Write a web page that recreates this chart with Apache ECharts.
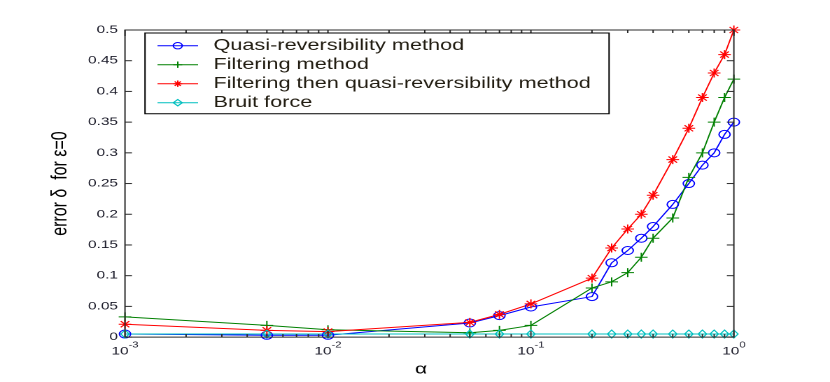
<!DOCTYPE html>
<html><head><meta charset="utf-8">
<script src="https://cdn.jsdelivr.net/npm/echarts@6/dist/echarts.min.js"></script>
<style>
html,body{margin:0;padding:0;background:#fff;overflow:hidden;}
#wrap{width:830px;height:382px;overflow:hidden;}
#chart{width:593px;height:382px;transform:scaleX(1.39966);transform-origin:0 0;}
</style></head><body><div id="wrap"><div id="chart"></div></div>
<script>
// ---- data ----
const alphas = [0.001, 0.005, 0.01, 0.05, 0.07, 0.1, 0.2, 0.25, 0.3, 0.35, 0.4, 0.5, 0.6, 0.7, 0.8, 0.9, 1.0];
const quasiReversibility = [0.005, 0.003, 0.003, 0.023, 0.035, 0.049, 0.066, 0.121, 0.141, 0.161, 0.18, 0.216, 0.25, 0.28, 0.30, 0.33, 0.35];
const filtering = [0.033, 0.019, 0.012, 0.007, 0.011, 0.019, 0.08, 0.09, 0.105, 0.13, 0.161, 0.194, 0.26, 0.30, 0.35, 0.39, 0.42];
const filteringThenQR = [0.021, 0.011, 0.009, 0.024, 0.037, 0.054, 0.096, 0.145, 0.176, 0.2, 0.231, 0.289, 0.34, 0.39, 0.43, 0.46, 0.5];
const bruitForce = [0.005, 0.005, 0.005, 0.005, 0.005, 0.005, 0.005, 0.005, 0.005, 0.005, 0.005, 0.005, 0.005, 0.005, 0.005, 0.005, 0.005];
const seriesNames = ['Quasi-reversibility method', 'Filtering method', 'Filtering then quasi-reversibility method', 'Bruit force'];
const xMin = 0.001, xMax = 1;
const yMin = 0, yMax = 0.5, yStep = 0.05;
const xMajorTicks = [0.001, 0.01, 0.1, 1];
const yMajorTicks = [0, 0.05, 0.1, 0.15, 0.2, 0.25, 0.3, 0.35, 0.4, 0.45, 0.5];
const minorTickValues = [0.002,0.003,0.004,0.005,0.006,0.007,0.008,0.009,
  0.02,0.03,0.04,0.05,0.06,0.07,0.08,0.09,
  0.2,0.3,0.4,0.5,0.6,0.7,0.8,0.9];
const xName = 'α';
const yName = 'error δ  for ε=0';

// ---- chart ----
const chart = echarts.init(document.getElementById('chart'), null, {devicePixelRatio: 2});
const font = "'Liberation Sans', Arial, sans-serif";
const axisColor = '#2a2a2a';
const labelColor = '#1c1c2a';

const plusPath = 'path://M5,0L5,10M0,5L10,5';
const starPath = 'path://M5,0L5,10M0,5L10,5M1.6,1.6L8.4,8.4M8.4,1.6L1.6,8.4';

function pairs(vals) { return alphas.map((a, i) => [a, vals[i]]); }

function lineSeries(name, vals, color, symbol, size) {
  return {
    name: name, type: 'line', data: pairs(vals),
    symbol: symbol, symbolSize: size, showSymbol: true,
    lineStyle: {color: color, width: 1},
    itemStyle: {color: 'rgba(0,0,0,0)', borderColor: color, borderWidth: 1},
    emphasis: {disabled: true}, animation: false, clip: false, z: 3
  };
}

function xAxisBase() {
  return {
    type: 'log', logBase: 10, min: xMin, max: xMax,
    axisLine: {show: false, onZero: false},
    axisTick: {show: false},
    splitLine: {show: false}, minorTick: {show: false}
  };
}
function yAxisBase() {
  return {
    type: 'value', min: yMin, max: yMax, interval: yStep,
    axisLine: {show: false, onZero: false},
    axisTick: {show: false},
    splitLine: {show: false}
  };
}

chart.setOption({
  animation: false,
  textStyle: {fontFamily: font},
  grid: {left: 89.3, right: 68.7, top: 30, bottom: 42, containLabel: false},
  legend: {
    data: seriesNames, orient: 'vertical', left: 103.6, top: 33, z: 10,
    itemWidth: 29, itemHeight: 8, itemGap: 3,
    padding: [4.7, 13, 3, 8.4],
    borderColor: '#000', borderWidth: 1, backgroundColor: '#fff',
    lineStyle: {width: 1},
    itemStyle: {borderWidth: 1},
    textStyle: {fontFamily: font, fontSize: 15.5, color: '#221d12', lineHeight: 14, padding: [0, 0, 0, 6]},
    selectedMode: false
  },
  xAxis: [
    Object.assign(xAxisBase(), {
      position: 'bottom',
      name: xName, nameLocation: 'middle', nameGap: 18,
      nameTextStyle: {fontSize: 15, color: '#000', padding: [0, 12, 0, 0]},
      axisLabel: {
        show: true, margin: 4, showMinLabel: true, showMaxLabel: true,
        formatter: function (v) { return '{b|10}{s|' + Math.round(Math.log10(v)) + '}'; },
        rich: {
          b: {fontSize: 11, color: labelColor, fontFamily: font, lineHeight: 16, verticalAlign: 'bottom'},
          s: {fontSize: 8, color: labelColor, fontFamily: font, lineHeight: 16, verticalAlign: 'top'}
        }
      }
    }),
    Object.assign(xAxisBase(), {position: 'top', axisLabel: {show: false}})
  ],
  yAxis: [
    Object.assign(yAxisBase(), {
      position: 'left',
      name: yName, nameLocation: 'middle', nameGap: 38, nameRotate: 90,
      nameTextStyle: {fontSize: 16, color: '#000'},
      axisLabel: {show: true, margin: 5, fontSize: 11, color: labelColor, showMinLabel: true, showMaxLabel: true}
    }),
    Object.assign(yAxisBase(), {position: 'right', axisLabel: {show: false}})
  ],
  series: [
    lineSeries(seriesNames[0], quasiReversibility, '#0000ff', 'circle', 8),
    lineSeries(seriesNames[1], filtering, '#008000', plusPath, 9),
    lineSeries(seriesNames[2], filteringThenQR, '#ff0000', starPath, 9),
    lineSeries(seriesNames[3], bruitForce, '#00bfbf', 'diamond', [6, 8])
  ]
});

// ---- frame and ticks, positioned through the chart's own axes ----
function px(x, y) { return chart.convertToPixel({gridIndex: 0}, [x, y]); }
function seg(x1, y1, x2, y2) {
  return {type: 'line', z: 9, silent: true,
    shape: {x1: x1, y1: y1, x2: x2, y2: y2},
    style: {stroke: axisColor, lineWidth: 1}};
}
const bl = px(xMin, yMin), tr = px(xMax, yMax);
const els = [{
  type: 'rect', z: 9, silent: true,
  shape: {x: bl[0], y: tr[1], width: tr[0] - bl[0], height: bl[1] - tr[1]},
  style: {fill: 'none', stroke: axisColor, lineWidth: 1}
}];
xMajorTicks.forEach(function (v) {
  const p = px(v, yMin);
  els.push(seg(p[0], bl[1], p[0], bl[1] - 6));
  els.push(seg(p[0], tr[1], p[0], tr[1] + 6));
});
minorTickValues.forEach(function (v) {
  const p = px(v, yMin);
  els.push(seg(p[0], bl[1], p[0], bl[1] - 3));
  els.push(seg(p[0], tr[1], p[0], tr[1] + 3));
});
yMajorTicks.forEach(function (v) {
  const p = px(xMin, v);
  els.push(seg(bl[0], p[1], bl[0] + 5, p[1]));
  els.push(seg(tr[0], p[1], tr[0] - 5, p[1]));
});
chart.setOption({graphic: {elements: els}});
</script>
</body></html>
